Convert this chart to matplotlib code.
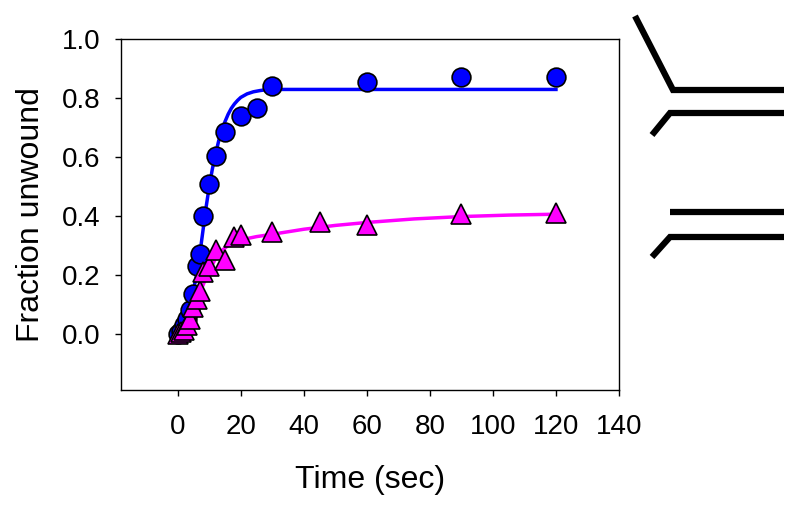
import matplotlib
matplotlib.use("Agg")
import matplotlib.pyplot as plt
from matplotlib.lines import Line2D

plt.rcParams['font.family'] = ['Liberation Sans', 'DejaVu Sans']

# Data: blue circles (forked substrate)
t_blue = [0, 1, 2, 3, 4, 5, 6, 7, 8, 10, 12, 15, 20, 25, 30, 60, 90, 120]
y_blue = [0.0, 0.01, 0.03, 0.05, 0.08, 0.135, 0.23, 0.27, 0.40, 0.51, 0.605, 0.685, 0.74, 0.765, 0.84, 0.855, 0.87, 0.87]

# Data: magenta triangles
t_mag = [0, 1, 2, 3, 4, 5, 6, 7, 8, 10, 12, 15, 18, 20, 30, 45, 60, 90, 120]
y_mag = [0.0, 0.005, 0.015, 0.03, 0.05, 0.09, 0.12, 0.145, 0.21, 0.23, 0.285, 0.25, 0.33, 0.335, 0.345, 0.38, 0.368, 0.406, 0.411]

# Fit curves
fit_t_blue = [0, 1, 2, 3, 4, 5, 6, 7, 8, 9, 10, 11, 12, 13, 14, 15, 16, 17, 18, 19, 20, 22, 24, 26, 28, 30, 40, 60, 90, 120]
fit_y_blue = [0.0, 0.01, 0.03, 0.06, 0.10, 0.15, 0.20, 0.27, 0.35, 0.43, 0.50, 0.56, 0.61, 0.655, 0.69, 0.72, 0.745, 0.765, 0.78, 0.792, 0.802, 0.814, 0.821, 0.825, 0.828, 0.829, 0.829, 0.829, 0.829, 0.829]
fit_t_mag = [0, 2, 4, 6, 8, 10, 12, 14, 16, 18, 20, 25, 30, 40, 50, 60, 75, 90, 105, 120]
fit_y_mag = [0.0, 0.02, 0.06, 0.11, 0.165, 0.215, 0.255, 0.283, 0.300, 0.311, 0.319, 0.330, 0.338, 0.355, 0.368, 0.378, 0.390, 0.398, 0.403, 0.406]

xticks = [0, 20, 40, 60, 80, 100, 120, 140]
yticks = [0.0, 0.2, 0.4, 0.6, 0.8, 1.0]

# Schematic DNA strands (figure pixel coords, decorative)
strand_top_1 = ([635, 673, 784], [16, 90, 90])
strand_top_2 = ([652, 670, 784], [135, 113, 113])
strand_bot_1 = ([670, 784], [212, 212])
strand_bot_2 = ([652, 670, 784], [257, 237, 237])

W, H = 800, 508
fig = plt.figure(figsize=(8, 5.08), dpi=100)
ax = fig.add_axes([121 / W, 1 - 390 / H, (619 - 121) / W, (390 - 39) / H])

ax.plot(fit_t_blue, fit_y_blue, color='#0000FF', lw=2.5, zorder=2)
ax.plot(fit_t_mag, fit_y_mag, color='#FF00FF', lw=2.5, zorder=2)
ax.plot(t_blue, y_blue, 'o', ms=13.5, mfc='#0000FF', mec='black', mew=1.2, zorder=3)
ax.plot(t_mag, y_mag, '^', ms=14, mfc='#FF00FF', mec='black', mew=1.2, zorder=4)

ax.set_xlim(-18, 140)
ax.set_ylim(-0.19, 1.0)
ax.set_xticks(xticks)
ax.set_yticks(yticks)
ax.set_xticklabels([str(v) for v in xticks])
ax.set_yticklabels([f"{v:.1f}" for v in yticks])
ax.tick_params(axis='x', direction='out', length=4, width=1, labelsize=20, pad=13)
ax.tick_params(axis='y', direction='out', length=4, width=1, labelsize=20, pad=11)
for s in ax.spines.values():
    s.set_linewidth(1.0)

ax.set_xlabel('Time (sec)', fontsize=23, labelpad=18)
ax.set_ylabel('Fraction unwound', fontsize=23, labelpad=11)

for xs, ys in (strand_top_1, strand_top_2, strand_bot_1, strand_bot_2):
    fig.add_artist(Line2D([x / W for x in xs], [1 - y / H for y in ys],
                          transform=fig.transFigure, color='black', lw=4.5,
                          solid_joinstyle='miter', solid_capstyle='butt'))

fig.savefig('out.png', dpi=100)
